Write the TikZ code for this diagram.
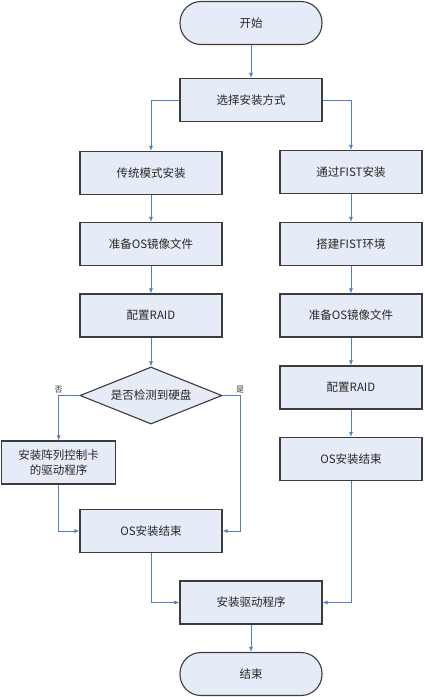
\documentclass[tikz,border=0pt]{standalone}
\usepackage{fontspec}
\newfontfamily\cjk{Noto Sans CJK SC}
\usetikzlibrary{shapes.geometric,arrows.meta}
\definecolor{boxfill}{RGB}{230,236,247}
\definecolor{boxline}{RGB}{60,60,60}
\definecolor{linkblue}{RGB}{79,129,189}

\begin{document}
\begin{tikzpicture}[x=1pt,y=-1pt]

      \useasboundingbox (0,0) rectangle (424,697);

      \begin{scope}[every node/.style={draw=boxline,fill=boxfill,line width=1.1pt,
          minimum width=142pt,minimum height=43pt,inner sep=0pt,
          font=\cjk\fontsize{11.5}{15}\selectfont,text=black!85}]
        \node[rounded corners=21pt] (1)  at (251,23)    {开始};
        \node (2)  at (251,100)   {选择安装方式};
        \node (3)  at (151,173)   {传统模式安装};
        \node (4)  at (151,244)   {准备OS镜像文件};
        \node (5)  at (151,315.5) {配置RAID};
        \node[diamond,aspect=2.5,minimum height=57pt] (6) at (151,395.5) {是否检测到硬盘};
        \node[minimum width=114pt,align=center] (7) at (58.7,462.5) {安装阵列控制卡\\的驱动程序};
        \node (8)  at (151,531)   {OS安装结束};
        \node (9)  at (351,172)   {通过FIST安装};
        \node (10) at (351,244)   {搭建FIST环境};
        \node (11) at (351,315.5) {准备OS镜像文件};
        \node (12) at (351,387.5) {配置RAID};
        \node (13) at (351,459)   {OS安装结束};
        \node (14) at (251,602.5) {安装驱动程序};
        \node[rounded corners=21pt] (15) at (251,674) {结束};
      \end{scope}

      \begin{scope}[color=linkblue,line width=0.8pt,-{Latex[length=5pt,width=4pt]},
          every node/.style={text=black!80,font=\cjk\fontsize{8}{10}\selectfont,inner sep=1.5pt}]
        \path (1)  edge (2);
        \draw (2.west) -| (3.north);
        \draw (2.east) -| (9.north);
        \path (3)  edge (4);
        \path (4)  edge (5);
        \path (5)  edge (6);
        \draw (6.west) -| node[pos=0.5,above] {否} (7.north);
        \draw (6.east) -- ++(17.5,0) node[above] {是} |- (8.east);
        \draw (7.south) |- (8.west);
        \path (9)  edge (10);
        \path (10) edge (11);
        \path (11) edge (12);
        \path (12) edge (13);
        \draw (8.south) |- (14.west);
        \draw (13.south) |- (14.east);
        \path (14) edge (15);
      \end{scope}

    \end{tikzpicture}
\end{document}
